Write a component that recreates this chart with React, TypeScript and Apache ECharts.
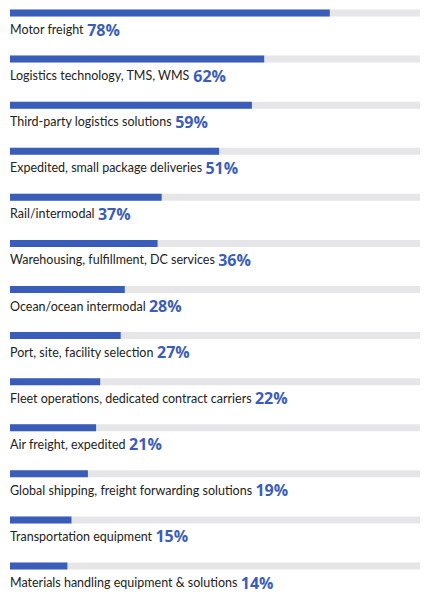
import React, { useEffect, useRef } from 'react';
import * as echarts from 'echarts';

const categories = [
  'Motor freight',
  'Logistics technology, TMS, WMS',
  'Third-party logistics solutions',
  'Expedited, small package deliveries',
  'Rail/intermodal',
  'Warehousing, fulfillment, DC services',
  'Ocean/ocean intermodal',
  'Port, site, facility selection',
  'Fleet operations, dedicated contract carriers',
  'Air freight, expedited',
  'Global shipping, freight forwarding solutions',
  'Transportation equipment',
  'Materials handling equipment & solutions',
];

const shares = [78, 62, 59, 51, 37, 36, 28, 27, 22, 21, 19, 15, 14];

const BLUE = '#3a5db9';

const App: React.FC = () => {
  const chartRef = useRef<HTMLDivElement>(null);

  useEffect(() => {
    if (!chartRef.current) return;
    const chart = echarts.init(chartRef.current, undefined, { renderer: 'svg' });

    chart.setOption({
      animation: false,
      grid: { left: 10, right: 11, top: 13, height: 553 },
      xAxis: { type: 'value', min: 0, max: 100, show: false },
      yAxis: {
        type: 'category',
        data: categories,
        inverse: true,
        boundaryGap: false,
        show: false,
      },
      series: [
        {
          type: 'bar',
          data: shares,
          barWidth: 7,
          itemStyle: { color: BLUE },
          showBackground: true,
          backgroundStyle: { color: '#e6e6e8' },
          label: {
            show: true,
            position: [0, 20],
            align: 'left',
            verticalAlign: 'middle',
            formatter: (p: any) => `{n|${p.name}} {p|${p.value}%}`,
            rich: {
              n: { fontFamily: 'Lato', fontSize: 12.5, color: '#222222' },
              p: { fontFamily: 'Open Sans', fontSize: 16, fontWeight: 'bold', color: BLUE },
            },
          },
        },
      ],
    });

    return () => {
      chart.dispose();
    };
  }, []);

  return (
    <div
      ref={chartRef}
      style={{ position: 'absolute', left: 0, top: 0, width: '431px', height: '600px', background: '#fff' }}
    />
  );
};

export default App;
